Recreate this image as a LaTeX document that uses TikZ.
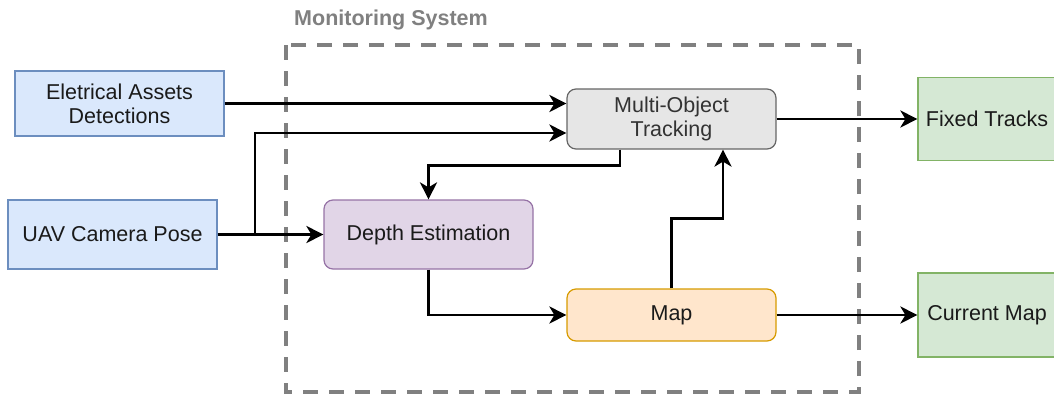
\documentclass[tikz,border=0pt]{standalone}
\usepackage{fontspec}
\setmainfont{Liberation Sans}
\usetikzlibrary{arrows.meta}

\definecolor{bluefill}{HTML}{DAE8FC} \definecolor{blueline}{HTML}{6C8EBF}
\definecolor{purplefill}{HTML}{E1D5E7} \definecolor{purpleline}{HTML}{9673A6}
\definecolor{grayfill}{HTML}{E6E6E6} \definecolor{grayline}{HTML}{666666}
\definecolor{orangefill}{HTML}{FFE6CC} \definecolor{orangeline}{HTML}{D79B00}
\definecolor{greenfill}{HTML}{D5E8D4} \definecolor{greenline}{HTML}{82B366}
\definecolor{dashgray}{HTML}{808080} \definecolor{textdark}{HTML}{1A1A1A}
\definecolor{graytext}{HTML}{333333}

\begin{document}
\begin{tikzpicture}[x = 1pt, y = -1pt,
    inbox/.style = {draw, line width = 1.2pt, minimum width = 209pt, minimum height = 65pt, inner sep = 0pt,
        align = center, text = textdark, font = \fontsize{21.5}{24}\selectfont},
    stage/.style = {inbox, rounded corners = 9pt},
    outbox/.style = {inbox, minimum width = 138pt, fill = greenfill, draw = greenline},
    arr/.style = {line width = 2.9pt, -{Stealth[length = 17pt, width = 17pt, inset = 5pt]}}]
\useasboundingbox (0,0) rectangle (1054,399);
%system frame
    \draw[dashgray, line width = 3.4pt, dash pattern = on 15pt off 11pt] (286,45) rectangle (859,392);
    \node[font = \bfseries\fontsize{21.5}{24}\selectfont, text = dashgray] (title) at (391,20) {Monitoring System};
%inputs
    \node[inbox, fill = bluefill, draw = blueline] (ead) at (119.5,103.5) {Eletrical Assets\\Detections};
    \node[inbox, fill = bluefill, draw = blueline, minimum height = 69pt] (uav) at (112.5,234.5) {UAV Camera Pose};
%blocks
    \node[stage, fill = grayfill, draw = grayline, text = graytext, minimum height = 60pt] (mot) at (671.5,119) {Multi-Object\\Tracking};
    \node[stage, fill = purplefill, draw = purpleline, minimum height = 69pt] (dep) at (428.5,234.5) {Depth Estimation};
    \node[stage, fill = orangefill, draw = orangeline, minimum height = 52pt] (map) at (671.5,315) {Map};
%outputs
    \node[outbox, minimum height = 83pt] (fix) at (987,119) {Fixed Tracks};
    \node[outbox, minimum height = 84pt] (cur) at (987,315) {Current Map};
%coordinate
    \coordinate (jn) at (255,234.5); \coordinate (in2) at ([yshift = -14pt]mot.west);
    \coordinate (fb) at ([xshift = -51.5pt]mot.south); \coordinate (up) at ([xshift = 51.5pt]mot.south);
%arrows
    \draw[arr] (ead.east) -- (ead.east -| mot.west);
    \draw[arr] (uav.east) -- (dep.west);
    \draw[arr] (jn) |- (in2);
    \draw[arr] (fb) -- ++(0,16) -| (dep.north);
    \draw[arr] (dep.south) |- (map.west);
    \draw[arr] (map.north) -- ++(0,-70) -| (up);
    \draw[arr] (mot.east) -- (fix.west);
    \draw[arr] (map.east) -- (cur.west);
\end{tikzpicture}
\end{document}
